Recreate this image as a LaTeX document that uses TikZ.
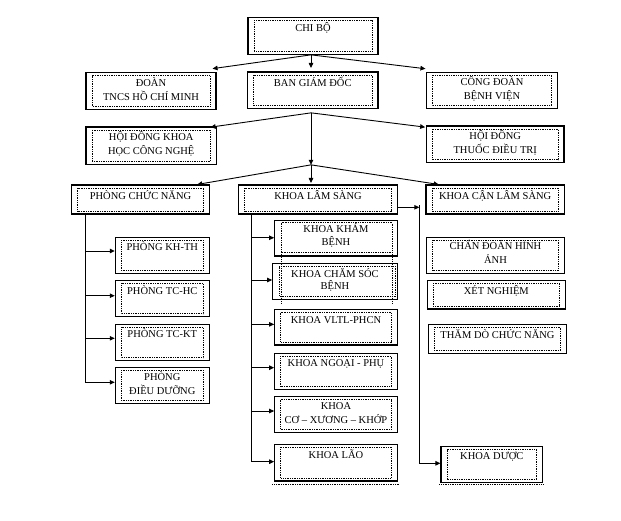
\documentclass[tikz,border=0pt]{standalone}
\usepackage{fontspec}
\setmainfont{Liberation Serif}
\usetikzlibrary{arrows.meta,fit,calc}
\tikzset{
  obox/.style={draw, line width=1.1pt, inner sep=0pt},
  ibox/.style={line width=0.75pt, dash pattern=on 0.75pt off 1pt},
  txt/.style={font=\fontsize{10.5}{14}\selectfont, align=center, inner sep=0pt},
  arr/.style={line width=0.9pt, -{Triangle[length=5pt,width=4.5pt]}},
}
% name, x1, x2, y1, y2, baseline of last line, text
\newcommand{\obx}[7]{%
  \node[obox, fit={(#2,#4) (#3,#5)}] (#1) {};
  \draw[ibox] ([shift={(6.5pt,-3.5pt)}]#1.north west) rectangle ([shift={(-6.5pt,3.5pt)}]#1.south east);
  \node[txt, anchor=base] (#1-t) at ({(#2+#3)/2},#6) {#7};
}
\newcommand{\obxn}[7]{%
  \node[obox, fit={(#2,#4) (#3,#5)}] (#1) {};
  \node[txt, anchor=base] (#1-t) at ({(#2+#3)/2},#6) {#7};
}
\begin{document}
\begin{tikzpicture}[x=1pt,y=-1pt]
\useasboundingbox (0,0) rectangle (621,520);
\obx{chibo}{248}{378}{17.3}{54.3}{31.5}{CHI BỘ}
\obx{doan}{86}{216}{72.7}{109.3}{100.2}{ĐOÀN\\TNCS HỒ CHÍ MINH}
\obx{bgd}{247.5}{378}{72}{108.5}{86.2}{BAN GIÁM ĐỐC}
\obx{congdoan}{426.5}{557.5}{72.3}{108.7}{99.4}{CÔNG ĐOÀN\\BỆNH VIỆN}
\obx{hdkh}{86}{216.5}{127}{164.3}{154.2}{HỘI ĐỒNG KHOA\\HỌC CÔNG NGHỆ}
\obx{hdt}{426.5}{564}{126}{162.7}{153.5}{HỘI ĐỒNG\\THUỐC ĐIỀU TRỊ}
\obx{pcn}{71.7}{209.3}{185}{214}{199.5}{PHÒNG CHỨC NĂNG}
\obx{kls}{238.7}{397.3}{185}{214}{199.5}{KHOA LÂM SÀNG}
\obx{kcls}{426}{564.3}{185}{214}{199.5}{KHOA CẬN LÂM SÀNG}
\obx{pkhth}{115.3}{209.3}{237.3}{273.3}{250.8}{PHÒNG KH-TH}
\obx{ptchc}{115.3}{209.3}{280.3}{316.7}{294.2}{PHÒNG TC-HC}
\obx{ptckt}{115.3}{209.3}{324.3}{360.7}{337.5}{PHÒNG TC-KT}
\obx{pdd}{115.3}{209.3}{367.3}{403.3}{394.4}{PHÒNG\\ĐIỀU DƯỠNG}
\obxn{kkb}{274.7}{397.3}{220.7}{256}{245.3}{KHOA KHÁM\\[-1.5pt]BỆNH}
\obxn{kcsb}{272.7}{397.3}{263.7}{299.3}{289.5}{KHOA CHĂM SÓC\\[-1.5pt]BỆNH}
\obx{kvltl}{274.7}{397.3}{309.7}{345}{323.5}{KHOA VLTL-PHCN}
\obx{kngoai}{274.7}{397.3}{353.3}{389.3}{366.2}{KHOA NGOẠI - PHỤ}
\obx{kcxk}{274.7}{397.3}{396.7}{432.3}{423.5}{KHOA\\CƠ – XƯƠNG – KHỚP}
\obx{klao}{274.7}{397.3}{444.3}{481}{458.5}{KHOA LÃO}
\obx{cdha}{426.7}{564.3}{237.3}{273.3}{263.5}{CHẨN ĐOÁN HÌNH\\ẢNH}
\obx{xn}{427.3}{565.3}{280.3}{309}{294.2}{XÉT NGHIỆM}
\obx{tdcn}{428.3}{566.7}{324.3}{353.3}{338.5}{THĂM DÒ CHỨC NĂNG}
\obx{kduoc}{441}{542.7}{446.7}{482.7}{459.5}{KHOA DƯỢC}
% irregular dotted frames
\draw[ibox] (281.7,222.7) rectangle (392.3,252.2);
\draw[ibox] (281.7,252.2) -- (281.7,303.3) (392.3,252.2) -- (392.3,303.3);
\draw[ibox] (279.3,266.7) rectangle (395.5,296);
\draw[ibox] ([shift={(-1.7pt,-2.5pt)}]klao.south west) -- ([shift={(1.7pt,-2.5pt)}]klao.south east);
\draw[ibox] ([shift={(-1pt,-1.5pt)}]kduoc.south west) -- ([shift={(1pt,-1.5pt)}]kduoc.south east);
% connectors
\coordinate (h1) at ([xshift=-2pt]chibo.south);
\draw[arr] (h1) -- ([shift={(-4pt,3.5pt)}]doan.north east);
\draw[arr] (h1) -- ([shift={(-1.75pt,3.5pt)}]bgd.north);
\draw[arr] (h1) -- ([shift={(-0.5pt,3pt)}]congdoan.north west);
\coordinate (h2) at ([shift={(-1.75pt,-3.8pt)}]bgd.south);
\draw[arr] (h2) -- ([shift={(-6.5pt,-0.7pt)}]hdkh.north east);
\draw[arr] (h2) -- ([shift={(-0.8pt,-1.7pt)}]hdt.north west);
\coordinate (h3) at (h2 |- hdkh.south);
\draw[arr] (h2) -- (h3);
\draw[arr] (h3) -- ([xshift=-12.6pt]pcn.north east);
\draw[arr, shorten >=1.5pt] (h3) -- (h3 |- kls.north);
\draw[arr] (h3) -- ([xshift=13.3pt]kcls.north west);
% phong chuc nang
\coordinate (pt) at ([xshift=14.3pt]pcn.south west);
\coordinate (p1) at ([yshift=4.3pt]pkhth.west);
\coordinate (p2) at ([yshift=2.8pt]ptchc.west);
\coordinate (p3) at ([yshift=4.2pt]ptckt.west);
\coordinate (p4) at ([yshift=3pt]pdd.west);
\draw[arr] (pt) |- (p4);
\foreach \p in {p1,p2,p3} \draw[arr] (pt |- \p) -- (\p);
% khoa lam sang
\coordinate (kt) at ([xshift=13.6pt]kls.south west);
\coordinate (k1) at ([yshift=0.6pt]kkb.west);
\coordinate (k2) at ([yshift=1.5pt]kcsb.west);
\coordinate (k3) at ([yshift=3pt]kvltl.west);
\coordinate (k4) at ([yshift=3.6pt]kngoai.west);
\coordinate (k5) at ([yshift=3.5pt]kcxk.west);
\coordinate (k6) at ([yshift=1pt]klao.west);
\draw[arr] (kt) |- (k6);
\foreach \k in {k1,k2,k3,k4,k5} \draw[arr] (kt |- \k) -- (\k);
% khoa duoc
\coordinate (dx) at (419.3,207.3);
\draw[arr] ([yshift=-7.8pt]kls.east) -- (dx);
\coordinate (d1) at ([yshift=1.4pt]kduoc.west);
\draw[arr] ([yshift=2pt]dx) |- (d1);
\end{tikzpicture}
\end{document}
